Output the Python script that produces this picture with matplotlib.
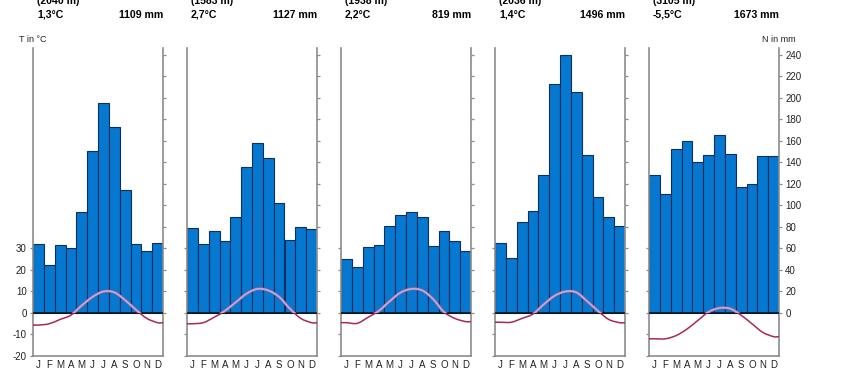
import matplotlib
matplotlib.use('Agg')
import matplotlib.pyplot as plt
import numpy as np
from matplotlib.path import Path
from matplotlib.patches import PathPatch, Rectangle

plt.rcParams['font.family'] = ['Liberation Sans', 'DejaVu Sans']

months = ['J', 'F', 'M', 'A', 'M', 'J', 'J', 'A', 'S', 'O', 'N', 'D']

elevations = ['(2040 m)', '(1583 m)', '(1938 m)', '(2036 m)', '(3105 m)']
mean_temps = ['1,3°C', '2,7°C', '2,2°C', '1,4°C', '-5,5°C']
totals = ['1109 mm', '1127 mm', '819 mm', '1496 mm', '1673 mm']

# monthly precipitation (mm)
prec1 = [64, 45, 63, 60, 94, 151, 195, 173, 114, 64, 58, 65]
prec2 = [79, 64, 76, 67, 89, 136, 158, 144, 102, 68, 80, 78]
prec3 = [50, 43, 61, 63, 81, 91, 94, 89, 62, 76, 67, 58]
prec4 = [65, 51, 85, 95, 128, 213, 240, 206, 147, 108, 89, 81]
prec5 = [128, 111, 153, 160, 140, 147, 166, 148, 117, 120, 146, 146]

# monthly mean temperature (°C)
temp1 = [-5.6, -5.0, -3.0, -1.0, 3.5, 7.5, 10.0, 9.6, 6.0, 1.5, -2.5, -4.5]
temp2 = [-5.0, -4.5, -2.0, 1.0, 5.0, 9.0, 11.2, 10.5, 7.5, 2.0, -2.5, -4.5]
temp3 = [-4.5, -4.8, -2.0, 1.0, 5.5, 9.5, 11.2, 10.5, 6.5, 0.5, -2.5, -4.0]
temp4 = [-4.3, -4.3, -2.5, -0.5, 4.0, 8.0, 10.0, 9.6, 5.5, 1.0, -3.0, -4.5]
temp5 = [-12.0, -12.0, -10.5, -7.5, -3.5, 0.5, 2.3, 2.0, -1.0, -5.0, -9.0, -11.0]

precs = [prec1, prec2, prec3, prec4, prec5]
temps = [temp1, temp2, temp3, temp4, temp5]

temp_ticks = [-20, -10, 0, 10, 20, 30]
prec_ticks = list(range(0, 241, 20))

W, H = 850, 372
fig = plt.figure(figsize=(W / 100, H / 100), dpi=100)

lefts = [33, 187, 341, 495, 649]
pw = 130
bottom_px, top_px = 356, 48
ymin, ymax = -40, 246.5

bar_col = '#0678d0'
edge_col = '#0d2f5e'
spine_col = '#8c8c8c'
txt_col = '#222222'


def curve_path(xs, ys):
    # smooth curve through the monthly points (Catmull-Rom as Bezier segments)
    pts = list(zip(xs, ys))
    verts = [pts[0]]
    codes = [Path.MOVETO]
    n = len(pts)
    for i in range(n - 1):
        p0 = pts[i - 1] if i > 0 else pts[i]
        p1 = pts[i]
        p2 = pts[i + 1]
        p3 = pts[i + 2] if i + 2 < n else pts[i + 1]
        c1 = (p1[0] + (p2[0] - p0[0]) / 6, p1[1] + (p2[1] - p0[1]) / 6)
        c2 = (p2[0] - (p3[0] - p1[0]) / 6, p2[1] - (p3[1] - p1[1]) / 6)
        verts += [c1, c2, p2]
        codes += [Path.CURVE4] * 3
    return Path(verts, codes)


for k in range(5):
    l = lefts[k] / W
    b = (H - bottom_px) / H
    ax = fig.add_axes([l, b, pw / W, (bottom_px - top_px) / H])
    ax.bar(np.arange(12), precs[k], width=1, align='edge', color=bar_col,
           edgecolor=edge_col, linewidth=0.8, zorder=2)
    ax.axhline(0, color='#111111', lw=1.1, zorder=3)
    ax.set_xlim(0, 12)
    ax.set_ylim(ymin, ymax)

    # temperature curve, doubled to match 10 °C = 20 mm
    xs = [0] + [i + 0.5 for i in range(12)] + [12]
    ys = [temps[k][0]] + temps[k] + [temps[k][-1]]
    ys = [2 * v for v in ys]
    path = curve_path(xs, ys)
    clip_hi = Rectangle((0, 0), 12, 300, transform=ax.transData)
    clip_lo = Rectangle((0, -100), 12, 100, transform=ax.transData)
    p_lo = PathPatch(path, fill=False, ec='#a8285a', lw=1.1, zorder=4)
    ax.add_patch(p_lo)
    p_lo.set_clip_path(clip_lo)
    p_hi = PathPatch(path, fill=False, ec='#b85a8c', lw=2.1, zorder=4)
    ax.add_patch(p_hi)
    p_hi.set_clip_path(clip_hi)
    p_hi2 = PathPatch(path, fill=False, ec='#b4b0e4', lw=1.2, zorder=5)
    ax.add_patch(p_hi2)
    p_hi2.set_clip_path(clip_hi)

    for s in ['left', 'right', 'bottom']:
        ax.spines[s].set_color(spine_col)
        ax.spines[s].set_linewidth(1.2)
    ax.spines['top'].set_visible(False)

    ax.set_xticks(np.arange(12) + 0.5)
    ax.set_xticklabels(months, fontsize=7, color=txt_col)
    ax.tick_params(axis='x', length=0, pad=3)

    ax.set_yticks([2 * t for t in temp_ticks])
    if k == 0:
        ax.set_yticklabels([str(t) for t in temp_ticks], fontsize=7, color=txt_col)
    else:
        ax.set_yticklabels([])
    ax.tick_params(axis='y', direction='out', length=2.5, width=0.9,
                   color=spine_col, pad=2, right=False)

    ax2 = ax.twinx()
    ax2.set_ylim(ymin, ymax)
    for s in ax2.spines.values():
        s.set_visible(False)
    ax2.set_yticks(prec_ticks)
    if k == 4:
        ax2.set_yticklabels([str(t) for t in prec_ticks], fontsize=7, color=txt_col)
    else:
        ax2.set_yticklabels([])
    ax2.tick_params(axis='y', direction='out', length=2.5, width=0.9,
                    color=spine_col, pad=2)

    # header text (the elevation line is cut by the top edge, as in the original)
    fig.text((lefts[k] + 4) / W, (H - 3.5) / H, elevations[k], fontsize=7.6,
             fontweight='bold', ha='left', va='baseline', color='black')
    fig.text((lefts[k] + 4) / W, (H - 17.5) / H, mean_temps[k], fontsize=7.6,
             fontweight='bold', ha='left', va='baseline', color='black')
    fig.text((lefts[k] + pw) / W, (H - 17.5) / H, totals[k], fontsize=7.6,
             fontweight='bold', ha='right', va='baseline', color='black')

fig.text(19 / W, (H - 39) / H, 'T in °C', fontsize=6.5, ha='left', va='center', color=txt_col)
fig.text(796 / W, (H - 39) / H, 'N in mm', fontsize=6.5, ha='right', va='center', color=txt_col)

fig.savefig('out.png', dpi=100)
